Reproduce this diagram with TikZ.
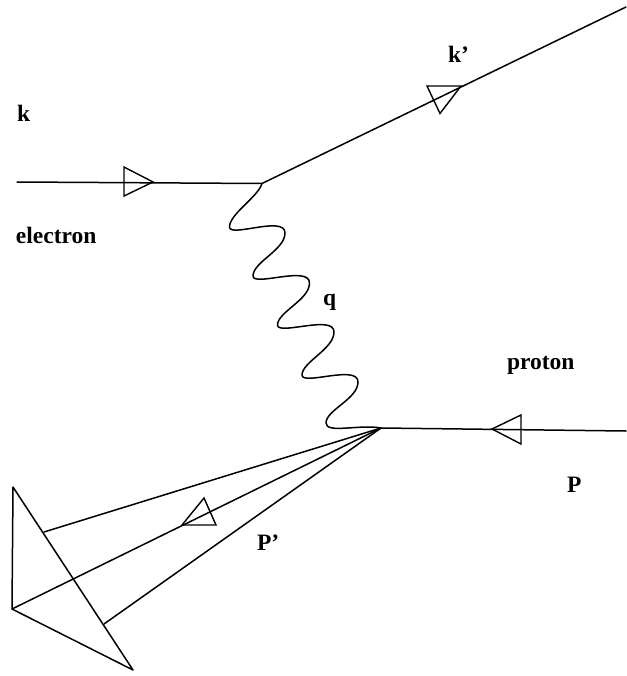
\documentclass[tikz,border=0pt]{standalone}
\usepackage{fontspec}
\setmainfont{Liberation Serif}
\tikzset{
  line/.style={line width=1.5pt,line join=round,line cap=round,black},
  tri/.style={line width=1.4pt,line join=miter,black},
  lab/.style={anchor=base west,inner sep=0pt,outer sep=0pt,font=\fontsize{23.5}{26}\selectfont\bfseries}
}
\begin{document}
\begin{tikzpicture}[x=1pt,y=-1pt]
\useasboundingbox (0,0) rectangle (626,676);
% vertices
\coordinate (ein) at (17,182);
\coordinate (ev) at (262,183.5);
\coordinate (eout) at (626,7);
\coordinate (pv) at (381,428);
\coordinate (pin) at (626,431);
\coordinate (A) at (13,487);
\coordinate (B) at (12,609);
\coordinate (C) at (133,670);
\coordinate (jt) at (44,532);
\coordinate (jb) at (104,624);
% fermion lines
\draw[line] (ein) -- (ev) -- (eout);
\draw[line] (pin) -- (pv);
\draw[line] (pv) -- (jt);
\draw[line] (pv) -- (B);
\draw[line] (pv) -- (jb);
% plane
\draw[line] (A) -- (B) -- (C) -- cycle;
% boson
\coordinate (L1) at (229.5,227);
\coordinate (R1) at (285,233);
\coordinate (L2) at (253,276);
\coordinate (R2) at (309.5,283);
\coordinate (L3) at (277.5,325);
\coordinate (R3) at (334,332);
\coordinate (L4) at (302,375);
\coordinate (R4) at (358,382);
\coordinate (L5) at (326,423);
\draw[line] (ev) .. controls (258,197) and (229.5,214) .. (L1)
  .. controls (229.5,238) and (285,215) .. (R1)
  .. controls (285,250) and (253,262) .. (L2)
  .. controls (253,287) and (309.5,265) .. (R2)
  .. controls (309.5,300) and (277.5,312) .. (L3)
  .. controls (277.5,336) and (334,314) .. (R3)
  .. controls (334,349) and (302,362) .. (L4)
  .. controls (302,386) and (358,364) .. (R4)
  .. controls (358,399) and (326,410) .. (L5)
  .. controls (326,434) and (360,424) .. (pv);
% arrowheads
\draw[tri] (124,167) -- (153,182) -- (124,196) -- cycle;
\draw[tri] (461,86) -- (427,86) -- (440,113.5) -- cycle;
\draw[tri] (492,429) -- (521,415) -- (521,444) -- cycle;
\draw[tri] (182,525) -- (204,498) -- (216,525) -- cycle;
% labels
\node[lab] (lk) at (17,122) {k};
\node[lab] (lkp) at (448,63) {k'};
\node[lab] (lel) at (16,243) {electron};
\node[lab] (lq) at (323,305) {q};
\node[lab] (lpr) at (507,369) {proton};
\node[lab] (lP) at (567,492) {P};
\node[lab] (lPp) at (257,550) {P'};
\end{tikzpicture}
\end{document}
